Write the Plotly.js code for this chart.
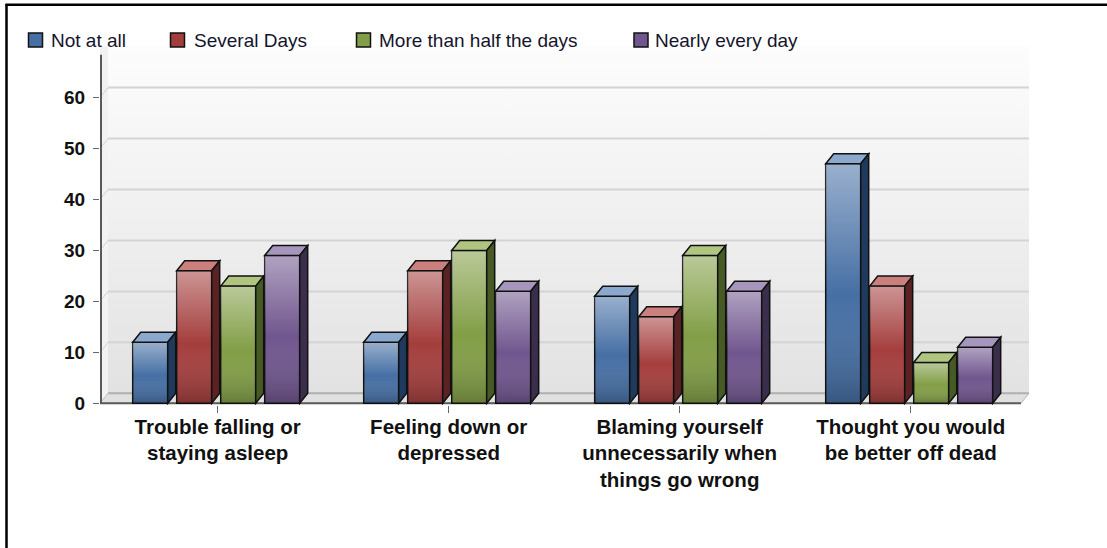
<!DOCTYPE html>
<html>
<head>
<meta charset="utf-8">
<script src="https://cdn.plot.ly/plotly-3.0.1.min.js"></script>
<style>html,body{margin:0;padding:0;background:#fff;}#chart{width:1107px;height:548px;}</style>
</head>
<body>
<div id="chart"></div>
<script>
// ---- data ----
const categories = ['Trouble falling or<br>staying asleep', 'Feeling down or<br>depressed', 'Blaming yourself<br>unnecessarily when<br>things go wrong', 'Thought you would<br>be better off dead'];
const seriesNames = ['Not at all', 'Several Days', 'More than half the days', 'Nearly every day'];
const notAtAll = [12, 12, 21, 47];
const severalDays = [26, 26, 17, 23];
const moreThanHalf = [23, 30, 29, 8];
const nearlyEveryDay = [29, 22, 22, 11];
const yTickValues = [0, 10, 20, 30, 40, 50, 60];
const yTickLabels = ['0', '10', '20', '30', '40', '50', '60'];

const seriesValues = [notAtAll, severalDays, moreThanHalf, nearlyEveryDay];
const frontColors = ['#466fa4', '#a43e3d', '#829e46', '#70568e'];
const topColors = ['#8ba9cd', '#cc807d', '#b0c680', '#a696be'];
const sideColors = ['#1f3a5c', '#5a2222', '#465a24', '#3b2e4c'];

// ---- geometry (layout) ----
const W = 1107, H = 548;
const M = {l: 100, r: 78, t: 46, b: 143};
const PW = W - M.l - M.r, PH = H - M.t - M.b;
const pxPerCat = 231, pxPerVal = 5.095;
const xr0 = -117.7 / pxPerCat;
const xRange = [xr0, xr0 + PW / pxPerCat];
const yr0 = -1.7 / pxPerVal;
const yRange = [yr0, yr0 + PH / pxPerVal];
const DX = 8 / pxPerCat, DY = 10 / pxPerVal;
const xFrontMax = xRange[1] - DX;
const yAxisTop = 68.4;
const step = 44 / pxPerCat, bw = 35 / pxPerCat, shift = -1.5 / pxPerCat;
const catIdx = categories.map((c, i) => i);

function px2paperX(px) { return (px - M.l) / PW; }
function px2paperY(py) { return (H - M.b - py) / PH; }

const traces = [];
const shapes = [];
const annotations = [];

// back wall gradient image
const wallSvg = '<svg xmlns="http://www.w3.org/2000/svg" width="10" height="100" viewBox="0 0 10 100" preserveAspectRatio="none"><defs><linearGradient id="g" x1="0" y1="0" x2="0" y2="1"><stop offset="0" stop-color="#fdfdfd"/><stop offset="1" stop-color="#e2e2e2"/></linearGradient></defs><rect width="10" height="100" fill="url(#g)"/></svg>';
const images = [{
  source: 'data:image/svg+xml;charset=utf-8,' + encodeURIComponent(wallSvg),
  xref: 'x', yref: 'y', x: xRange[0] + DX, y: yRange[1], sizex: xRange[1] - xRange[0] - DX,
  sizey: yRange[1] - DY, sizing: 'stretch', xanchor: 'left', yanchor: 'top', layer: 'below'
}];

// left side wall
shapes.push({type: 'path', xref: 'x', yref: 'y', layer: 'between',
  path: `M${xRange[0]},0 L${xRange[0] + DX},${DY} L${xRange[0] + DX},${yRange[1]} L${xRange[0]},${yRange[1]} Z`,
  fillcolor: '#f2f2f2', line: {width: 0}});
// floor
shapes.push({type: 'path', xref: 'x', yref: 'y', layer: 'between',
  path: `M${xRange[0]},0 L${xFrontMax},0 L${xRange[1]},${DY} L${xRange[0] + DX},${DY} Z`,
  fillcolor: '#e0e0e0', line: {color: '#b8b8b8', width: 1}});
// wall gridlines and side wall diagonals
yTickValues.forEach(v => {
  shapes.push({type: 'line', xref: 'x', yref: 'y', layer: 'between',
    x0: xRange[0] + DX, x1: xRange[1], y0: v + DY, y1: v + DY,
    line: {color: v === 0 ? '#b0b0b0' : '#d4d4d4', width: 2}});
  shapes.push({type: 'line', xref: 'x', yref: 'y', layer: 'between',
    x0: xRange[0], x1: xRange[0] + DX, y0: v, y1: v + DY,
    line: {color: '#d0d0d0', width: 1}});
});
// x axis (front floor edge)
shapes.push({type: 'line', xref: 'x', yref: 'y', layer: 'between',
  x0: xRange[0], x1: xFrontMax, y0: 0, y1: 0, line: {color: '#5a5a5a', width: 2}});
// y axis line
shapes.push({type: 'line', xref: 'x', yref: 'y', layer: 'above',
  x0: xRange[0] + 1 / pxPerCat, x1: xRange[0] + 1 / pxPerCat, y0: 0, y1: yAxisTop, line: {color: '#5a5a5a', width: 2}});

// bars
seriesValues.forEach((vals, s) => {
  const off = (s - 1.5) * step - bw / 2 + shift;
  traces.push({
    type: 'bar', name: seriesNames[s], x: catIdx, y: vals,
    offset: off, width: bw,
    marker: {color: frontColors[s], line: {color: '#111', width: 1.5}},
    showlegend: false, hoverinfo: 'y+name'
  });
  vals.forEach((v, c) => {
    const x0 = c + off, x1 = x0 + bw;
    // gradient overlay on the front face
    traces.push({
      type: 'scatter', mode: 'lines', x: [x0, x1, x1, x0, x0], y: [0, 0, v, v, 0],
      fill: 'toself', line: {width: 0, color: 'rgba(0,0,0,0)'},
      fillgradient: {type: 'vertical', colorscale: [[0, 'rgba(0,0,0,0.22)'], [0.45, 'rgba(255,255,255,0)'], [1, 'rgba(255,255,255,0.45)']]},
      showlegend: false, hoverinfo: 'skip'
    });
    // top face
    shapes.push({type: 'path', xref: 'x', yref: 'y', layer: 'above',
      path: `M${x0},${v} L${x0 + DX},${v + DY} L${x1 + DX},${v + DY} L${x1},${v} Z`,
      fillcolor: topColors[s], line: {color: '#111', width: 1.5}});
    // side face
    shapes.push({type: 'path', xref: 'x', yref: 'y', layer: 'above',
      path: `M${x1},${v} L${x1 + DX},${v + DY} L${x1 + DX},${DY} L${x1},0 Z`,
      fillcolor: sideColors[s], line: {color: '#111', width: 1.5}});
  });
});

// legend (manual)
const legendSquareX = [28.5, 170.5, 356.5, 634];
const legendTextX = [49, 191.5, 377, 653];
const legendY = 40, sq = 14;
seriesNames.forEach((n, s) => {
  shapes.push({type: 'rect', xref: 'paper', yref: 'paper', layer: 'above',
    x0: px2paperX(legendSquareX[s]), x1: px2paperX(legendSquareX[s] + sq),
    y0: px2paperY(legendY + sq / 2), y1: px2paperY(legendY - sq / 2),
    fillcolor: frontColors[s], line: {color: '#111', width: 1.5}});
  annotations.push({xref: 'paper', yref: 'paper', x: px2paperX(legendTextX[s]), y: px2paperY(legendY),
    xanchor: 'left', yanchor: 'middle', showarrow: false, text: n,
    font: {family: 'Liberation Sans, Arial, sans-serif', size: 19, color: '#14142b'}});
});

// outer frame
shapes.push({type: 'line', xref: 'paper', yref: 'paper', layer: 'above',
  x0: px2paperX(5.5), x1: px2paperX(W), y0: px2paperY(4.8), y1: px2paperY(4.8), line: {color: '#000', width: 2.5}});
shapes.push({type: 'line', xref: 'paper', yref: 'paper', layer: 'above',
  x0: px2paperX(6.5), x1: px2paperX(6.5), y0: px2paperY(4), y1: px2paperY(H), line: {color: '#000', width: 2.5}});

const layout = {
  width: W, height: H, margin: M,
  paper_bgcolor: '#ffffff', plot_bgcolor: '#ffffff',
  barmode: 'overlay', showlegend: false,
  xaxis: {range: xRange, tickmode: 'array', tickvals: catIdx, ticktext: categories,
    showgrid: false, zeroline: false, showline: false,
    ticks: 'outside', ticklen: 7, tickwidth: 1.5, tickcolor: '#666', ticklabelstandoff: -4,
    tickfont: {family: 'Liberation Sans, Arial, sans-serif', size: 20.5, color: '#111', weight: 'bold'},
    fixedrange: true},
  yaxis: {range: yRange, tickmode: 'array', tickvals: yTickValues, ticktext: yTickLabels,
    showgrid: false, zeroline: false, showline: false,
    ticks: 'outside', ticklen: 6, tickwidth: 1.5, tickcolor: '#666', ticklabelstandoff: 4,
    tickfont: {family: 'Liberation Sans, Arial, sans-serif', size: 19, color: '#111', weight: 'bold'},
    fixedrange: true},
  images: images, shapes: shapes, annotations: annotations
};

Plotly.newPlot('chart', traces, layout, {displayModeBar: false, staticPlot: true});
</script>
</body>
</html>
